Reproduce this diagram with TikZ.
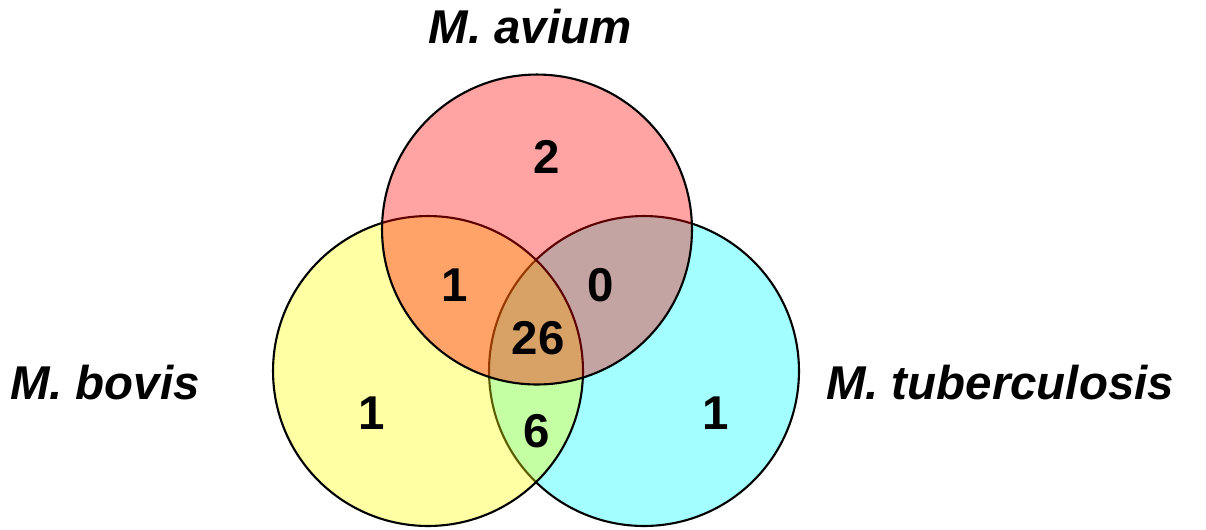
\documentclass[tikz,border=0pt]{standalone}
\usepackage{fontspec}
\setmainfont{Liberation Sans}
\usepackage{tikz}
\definecolor{aviumred}{RGB}{255,0,0}
\definecolor{bovisyellow}{RGB}{255,255,0}
\definecolor{tbcyan}{RGB}{0,255,255}
\tikzset{
  setcircle/.style={draw=black, line width=1.2pt, fill opacity=0.36},
  setlabel/.style={font=\fontsize{27}{31}\selectfont\bfseries\itshape, inner sep=0pt},
  count/.style={font=\fontsize{27}{31}\selectfont\bfseries, inner sep=0pt}
}
\begin{document}
\begin{tikzpicture}[x=0.02cm, y=-0.02cm]
        \useasboundingbox (0,0) rectangle (1206,529);
        % the three sets
        \draw [setcircle, fill=tbcyan] (644,371) circle (3.1cm);
        \draw [setcircle, fill=bovisyellow] (428,371) circle (3.1cm);
        \draw [setcircle, fill=aviumred] (537,229.5) circle (3.1cm);
        % names
        \node [setlabel] (avium) at (530,27) {M. avium};
        \node [setlabel] (bovis) at (105,383) {M. bovis};
        \node [setlabel] (tb) at (1000,383) {M. tuberculosis};
        % counts
        \node [count] (na) at (547,157) {2};
        \node [count] (nab) at (455,285) {1};
        \node [count] (nat) at (601,285) {0};
        \node [count] (nall) at (538,338) {26};
        \node [count] (nb) at (372,413) {1};
        \node [count] (nbt) at (537,431) {6};
        \node [count] (nt) at (716,413) {1};
\end{tikzpicture}
\end{document}
